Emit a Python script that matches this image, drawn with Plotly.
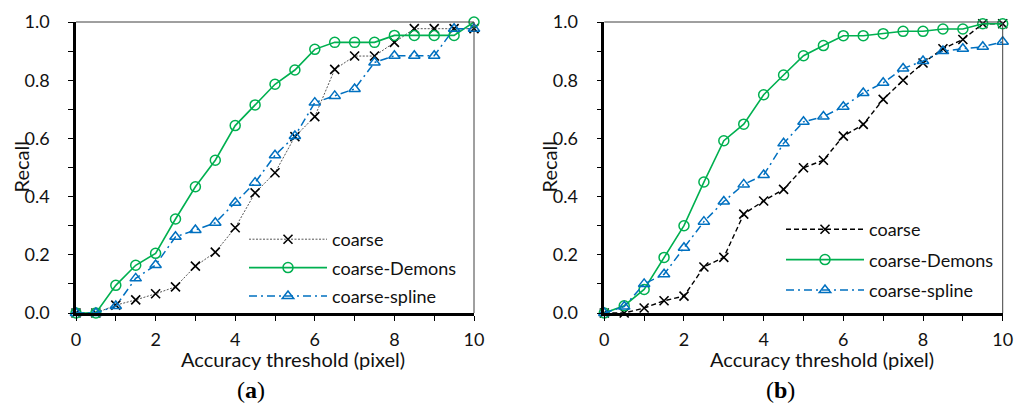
import plotly.graph_objects as go

thresholds = [0, 0.5, 1, 1.5, 2, 2.5, 3, 3.5, 4, 4.5, 5, 5.5, 6, 6.5, 7, 7.5, 8, 8.5, 9, 9.5, 10]

# panel (a)
a_coarse = [0, 0, 0.027, 0.045, 0.066, 0.090, 0.161, 0.209, 0.293, 0.413, 0.482, 0.606, 0.675,
            0.837, 0.883, 0.883, 0.930, 0.977, 0.977, 0.977, 0.977]
a_demons = [0, 0, 0.095, 0.164, 0.205, 0.323, 0.434, 0.525, 0.644, 0.715, 0.786, 0.835, 0.906,
            0.930, 0.930, 0.930, 0.954, 0.954, 0.954, 0.954, 1.0]
a_spline = [0, 0, 0.024, 0.119, 0.165, 0.262, 0.285, 0.310, 0.379, 0.448, 0.542, 0.608, 0.723,
            0.746, 0.770, 0.861, 0.884, 0.884, 0.884, 0.977, 0.977]

# panel (b)
b_coarse = [0, 0, 0.017, 0.042, 0.058, 0.158, 0.191, 0.340, 0.385, 0.425, 0.499, 0.525, 0.608,
            0.648, 0.734, 0.800, 0.859, 0.908, 0.940, 0.994, 0.994]
b_demons = [0, 0.025, 0.081, 0.191, 0.300, 0.450, 0.592, 0.649, 0.750, 0.818, 0.884, 0.919, 0.953,
            0.953, 0.960, 0.968, 0.968, 0.976, 0.976, 0.994, 0.994]
b_spline = [0, 0.022, 0.100, 0.133, 0.224, 0.314, 0.383, 0.442, 0.474, 0.583, 0.657, 0.675, 0.709,
            0.756, 0.791, 0.840, 0.866, 0.900, 0.908, 0.915, 0.932]

series_names = ["coarse", "coarse-Demons", "coarse-spline"]
x_ticks = [0, 2, 4, 6, 8, 10]
y_ticks = [0.0, 0.2, 0.4, 0.6, 0.8, 1.0]
x_title = "Accuracy threshold (pixel)"
y_title = "Recall"
panel_labels = ["(<b>a</b>)", "(<b>b</b>)"]

GREEN = "#00B050"
BLUE = "#0070C0"
FONT = "Lato"
TXT = "#111111"

# body margin is removed in the page, so the figure fills the 1016x410 window
OX, OY = 0, 0
W, H = 1016, 410

def fx(px):
    return (px - OX) / W

def fy(py):
    return 1 - (py - OY) / H

fig = go.Figure()

def add_panel(xa, ya, legend, tag, coarse, demons, spline, coarse_line):
    fig.add_trace(go.Scatter(
        x=thresholds, y=coarse, name=series_names[0], mode="lines+markers",
        line=coarse_line, legendgroup=tag + "0",
        marker=dict(symbol="x-thin-open", size=9, color="black", line=dict(width=1.6, color="black")),
        xaxis=xa, yaxis=ya, legend=legend, cliponaxis=False))
    fig.add_trace(go.Scatter(
        x=thresholds, y=demons, name=series_names[1], mode="lines+markers",
        line=dict(color=GREEN, width=1.6), legendgroup=tag + "1",
        marker=dict(symbol="circle-open", size=10, color=GREEN, line=dict(width=1.5, color=GREEN)),
        xaxis=xa, yaxis=ya, legend=legend, cliponaxis=False))
    fig.add_trace(go.Scatter(
        x=thresholds, y=spline, name=series_names[2], mode="lines+markers",
        line=dict(color=BLUE, width=1.5, dash="8px,4px,2px,4px"), legendgroup=tag + "2",
        marker=dict(symbol="triangle-up-open", size=10, color=BLUE, line=dict(width=1.5, color=BLUE)),
        xaxis=xa, yaxis=ya, legend=legend, cliponaxis=False))

add_panel("x", "y", "legend", "a", a_coarse, a_demons, a_spline,
          dict(color="#555555", width=1, dash="2px,1.5px"))
add_panel("x2", "y2", "legend2", "b", b_coarse, b_demons, b_spline,
          dict(color="black", width=1.4, dash="5px,3px"))

tickfont = dict(family=FONT, size=18, color=TXT)
xd = [[fx(76), fx(474)], [fx(604.3), fx(1002.7)]]
yd = [fy(313), fy(22)]

def xaxis(domain, anchor):
    return dict(domain=domain, anchor=anchor, range=[0, 10], tickvals=x_ticks, automargin=False,
                showline=True, linewidth=2.5, linecolor="black", ticks="outside", ticklen=5,
                tickwidth=1.2, tickcolor="black", showgrid=False, zeroline=False,
                tickfont=tickfont, ticklabelstandoff=4, ticklabeloverflow="allow",
                minor=dict(dtick=1, tick0=0, ticks="outside", ticklen=5, tickwidth=1.2,
                           tickcolor="black", showgrid=False))

def yaxis(anchor):
    return dict(domain=yd, anchor=anchor, range=[0, 1], tickvals=y_ticks, tickformat=".1f",
                automargin=False,
                showline=True, linewidth=2.5, linecolor="black", ticks="outside", ticklen=5,
                tickwidth=1.2, tickcolor="black", showgrid=False, zeroline=False,
                tickfont=tickfont, ticklabelstandoff=15,
                minor=dict(dtick=0.1, tick0=0, ticks="outside", ticklen=5, tickwidth=1.2,
                           tickcolor="black", showgrid=False))

fig.update_layout(
    width=W, height=H, margin=dict(l=0, r=0, t=0, b=0, autoexpand=False),
    paper_bgcolor="white", plot_bgcolor="white",
    xaxis=xaxis(xd[0], "y"), yaxis=yaxis("x"),
    xaxis2=xaxis(xd[1], "y2"), yaxis2=yaxis("x2"),
    showlegend=True,
    legend=dict(x=fx(244), y=fy(221), xanchor="left", yanchor="top",
                bgcolor="rgba(0,0,0,0)", font=dict(family=FONT, size=18, color=TXT),
                itemwidth=78, tracegroupgap=2),
    legend2=dict(x=fx(781), y=fy(211), xanchor="left", yanchor="top",
                 bgcolor="rgba(0,0,0,0)", font=dict(family=FONT, size=18, color=TXT),
                 itemwidth=78, tracegroupgap=4),
)

# thin top/right frame lines
for xr, yr in [("x domain", "y domain"), ("x2 domain", "y2 domain")]:
    fig.add_shape(type="line", xref=xr, yref=yr, x0=0, x1=1, y0=1, y1=1,
                  line=dict(color="#404040", width=1))
    fig.add_shape(type="line", xref=xr, yref=yr, x0=1, x1=1, y0=0, y1=1,
                  line=dict(color="#404040", width=1))

# axis titles and panel labels
for cx, ycx in [(292.5, 21), (821.7, 549)]:
    fig.add_annotation(text=x_title, x=fx(cx), y=fy(359), xref="paper", yref="paper",
                       showarrow=False, font=dict(family=FONT, size=20, color=TXT),
                       xanchor="center", yanchor="middle")
    fig.add_annotation(text=y_title, x=fx(ycx), y=fy(167.5), xref="paper", yref="paper",
                       showarrow=False, textangle=-90,
                       font=dict(family=FONT, size=20, color=TXT),
                       xanchor="center", yanchor="middle")

for cx, lab in [(251, panel_labels[0]), (780, panel_labels[1])]:
    fig.add_annotation(text=lab, x=fx(cx), y=fy(390), xref="paper", yref="paper",
                       showarrow=False, font=dict(family="Liberation Serif", size=24, color="black"),
                       xanchor="center", yanchor="middle")

fig.write_html("out.html", config={"displayModeBar": False},
               post_script="document.body.style.margin='0';document.body.style.overflow='hidden';")
